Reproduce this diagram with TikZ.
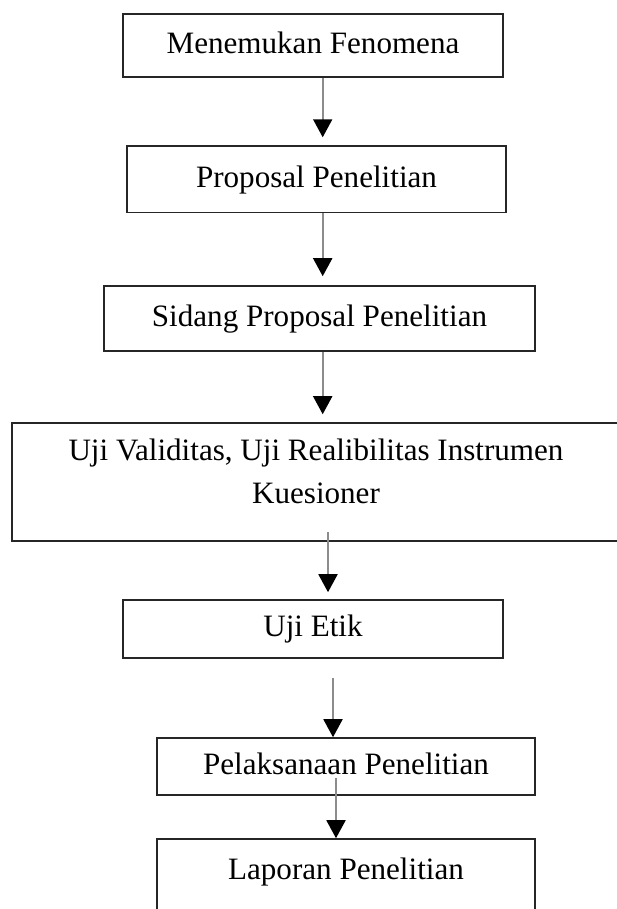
\documentclass[tikz,border=0pt]{standalone}
\usepackage{fontspec}
\setmainfont{Liberation Serif}
\usetikzlibrary{arrows.meta,calc}
\tikzset{
  flow/.style={draw=black!45,line width=1.1pt,-{Triangle[width=3.8mm,length=3.6mm,color=black]}},
  stepbox/.style={draw=black!85,line width=0.9pt,inner sep=0pt,align=center,
                  font=\fontsize{17.7pt}{24.4pt}\selectfont,
                  text height=4.68mm,text depth=1.56mm}
}
\begin{document}
\begin{tikzpicture}[x=0.02cm,y=-0.02cm]
  \useasboundingbox (0,0) rectangle (616,909);
  \node[stepbox,minimum width=7.6cm,minimum height=1.26cm] (fenomena) at (313,45.5) {Menemukan Fenomena};
  \node[stepbox,minimum width=7.58cm,minimum height=1.33cm] (proposal) at (316.5,179.3) {Proposal Penelitian};
  \node[stepbox,minimum width=8.62cm,minimum height=1.3cm] (sidang) at (319.5,318.5) {Sidang Proposal Penelitian};
  \node[stepbox,minimum width=12.16cm,minimum height=2.36cm,text height=13.28mm,text depth=4.88mm] (uji) at (316,482)
       {Uji Validitas, Uji Realibilitas Instrumen\\Kuesioner};
  \node[stepbox,minimum width=7.6cm,minimum height=1.16cm] (etik) at (313,629) {Uji Etik};
  \node[stepbox,minimum width=7.56cm,minimum height=1.14cm] (pelaksanaan) at (346,766.5) {Pelaksanaan Penelitian};
  \node[stepbox,minimum width=7.56cm,minimum height=1.6cm,text depth=4.68mm] (laporan) at (346,879) {Laporan Penelitian};
  % arrows between the steps
  \draw[flow] ($(fenomena.south)+(9.7,0)$) -- ($(proposal.north)+(6.2,-8)$);
  \draw[flow] ($(proposal.south)+(6.2,0)$) -- ($(sidang.north)+(3.2,-9)$);
  \draw[flow] ($(sidang.south)+(3.2,0)$) -- ($(uji.north)+(6.7,-8)$);
  \draw[flow] ($(uji.south)+(12,-10)$) -- ($(etik.north)+(15,-7)$);
  \draw[flow] ($(etik.south)+(20,19)$) -- ($(pelaksanaan.north)+(-13,0)$);
  \draw[flow] ($(pelaksanaan.south)+(-10,-18)$) -- (laporan.north -| 336,0);
\end{tikzpicture}
\end{document}
